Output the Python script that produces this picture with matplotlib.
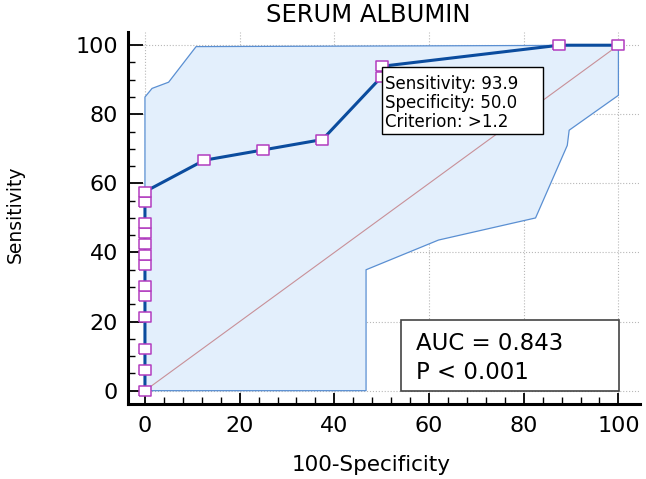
import numpy as np
import matplotlib
matplotlib.use("Agg")
import matplotlib.pyplot as plt
from matplotlib.patches import Rectangle
from matplotlib.ticker import MultipleLocator, FixedLocator

# ROC curve points (100-Specificity, Sensitivity)
roc_x = [0, 0, 0, 0, 0, 0, 0, 0, 0, 0, 0, 0, 0,
         12.5, 25.0, 37.5, 50.0, 50.0, 87.5, 100.0]
roc_y = [0, 6.1, 12.1, 21.2, 27.3, 30.3, 36.4, 39.4, 42.4, 45.5, 48.5, 54.5, 57.6,
         66.7, 69.7, 72.7, 90.9, 93.9, 100.0, 100.0]

# 95% confidence band
upper_x = [0, 0, 1.5, 5.0, 10.8, 100.0]
upper_y = [0, 85.0, 87.5, 89.3, 99.6, 100.0]
lower_x = [0, 46.7, 46.7, 62.0, 82.5, 89.2, 89.6, 100.0, 100.0]
lower_y = [0, 0, 35.0, 43.6, 50.0, 71.0, 75.4, 85.5, 100.0]

title = "SERUM ALBUMIN"
criterion_lines = ["Sensitivity: 93.9", "Specificity: 50.0", "Criterion: >1.2"]
auc_lines = ["AUC = 0.843", "P < 0.001"]

fig = plt.figure(figsize=(6.46, 4.79), dpi=100)
ax = fig.add_axes([0.198, 0.157, 0.793, 0.776])

# band fill: upper bound then lower bound reversed
poly_x = upper_x + lower_x[::-1]
poly_y = upper_y + lower_y[::-1]
ax.fill(poly_x, poly_y, color="#e3effc", zorder=1, lw=0)
ax.plot(upper_x, upper_y, color="#5a8fd2", lw=0.9, zorder=2)
ax.plot(lower_x, lower_y, color="#5a8fd2", lw=0.9, zorder=2)

# diagonal reference line
ax.plot([0, 100], [0, 100], color="#c89098", lw=0.8, zorder=2)

# ROC curve with rectangular markers
rect_marker = [(-1, -0.75), (1, -0.75), (1, 0.75), (-1, 0.75), (-1, -0.75)]
ax.plot(roc_x, roc_y, color="#0b4c9e", lw=2.2, zorder=3,
        marker=rect_marker, markersize=9, markerfacecolor="white",
        markeredgecolor="#b23cbf", markeredgewidth=1.1)

# criterion box
ax.add_patch(Rectangle((50.1, 74.3), 34.0, 19.3, facecolor="white",
                       edgecolor="black", lw=1.0, zorder=4))
for i, line in enumerate(criterion_lines):
    ax.text(50.7, 87.3 - i * 5.5, line, fontsize=12, va="baseline",
            ha="left", zorder=5)

# AUC box
ax.add_patch(Rectangle((54.1, 0), 46.1, 20.5, facecolor="white",
                       edgecolor="#444444", lw=1.2, zorder=4))
for i, line in enumerate(auc_lines):
    ax.text(57.3, 11.8 - i * 8.3, line, fontsize=16.5, va="baseline",
            ha="left", zorder=5)

ax.set_xlim(-3.6, 104.6)
ax.set_ylim(-3.8, 103.8)
ax.xaxis.set_major_locator(MultipleLocator(20))
ax.xaxis.set_minor_locator(FixedLocator(np.arange(0, 101, 4)))
ax.yaxis.set_major_locator(MultipleLocator(20))
ax.yaxis.set_minor_locator(FixedLocator(np.arange(0, 101, 5)))
ax.tick_params(axis="both", which="major", direction="in", labelsize=16,
               width=1.3, color="black")
ax.tick_params(axis="x", which="major", length=8, pad=9)
ax.tick_params(axis="y", which="major", length=11, pad=7)
ax.tick_params(axis="both", which="minor", direction="in", length=5, width=1.0)

ax.grid(True, which="major", linestyle=":", color="#b8b8b8", lw=0.8)
ax.set_axisbelow(True)
for s in ["top", "right"]:
    ax.spines[s].set_visible(False)
for s in ["left", "bottom"]:
    ax.spines[s].set_linewidth(2.2)

fig.text(368 / 646, 1 - 15 / 479, title, fontsize=17.5, ha="center", va="center")
fig.text(371 / 646, 1 - 465 / 479, "100-Specificity", fontsize=15.5,
         ha="center", va="center")
fig.text(15 / 646, 1 - 214 / 479, "Sensitivity", fontsize=13.5,
         ha="center", va="center", rotation=90)

fig.savefig("out.png", dpi=100)
